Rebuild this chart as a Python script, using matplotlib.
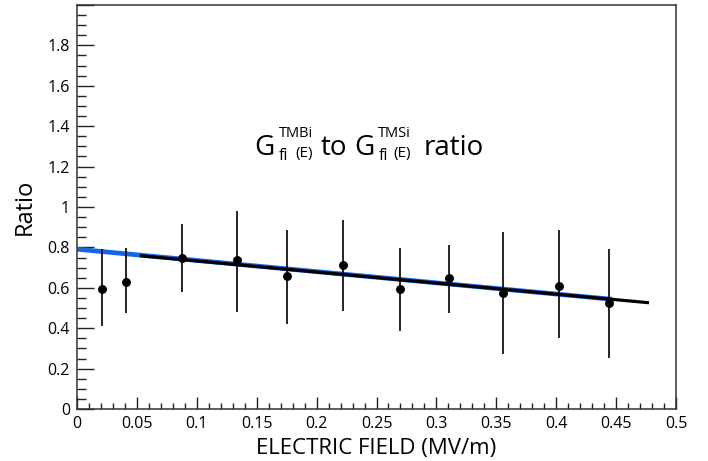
import matplotlib
matplotlib.use("Agg")
import matplotlib.pyplot as plt
from matplotlib.ticker import MultipleLocator, FuncFormatter
from matplotlib.transforms import IdentityTransform
import numpy as np

# data
field = [0.0206, 0.0408, 0.0875, 0.1336, 0.1756, 0.2222, 0.2697, 0.3103, 0.3553, 0.4025, 0.4442]
ratio = [0.594, 0.630, 0.746, 0.736, 0.657, 0.713, 0.596, 0.649, 0.573, 0.611, 0.523]
err_low = [0.411, 0.475, 0.581, 0.480, 0.421, 0.484, 0.386, 0.474, 0.272, 0.351, 0.252]
err_high = [0.790, 0.799, 0.916, 0.980, 0.888, 0.936, 0.799, 0.812, 0.875, 0.888, 0.791]

# fit lines (end points)
blue_x = [0.0, 0.447]
blue_y = [0.791, 0.543]
black_x = [0.0525, 0.4775]
black_y = [0.759, 0.526]

plt.rcParams['font.family'] = ['Open Sans', 'DejaVu Sans']

W, H = 708, 461
fig = plt.figure(figsize=(W/100, H/100), dpi=100)
ax = fig.add_axes([77/W, 1-409/H, (676-77)/W, (409-5)/H])

ratio = np.array(ratio)
yerr = [ratio - np.array(err_low), np.array(err_high) - ratio]

ax.plot(blue_x, blue_y, color='#1464f0', lw=3.4, solid_capstyle='butt', zorder=2)
ax.plot(black_x, black_y, color='black', lw=2.3, solid_capstyle='butt', zorder=3)
ax.errorbar(field, ratio, yerr=yerr, fmt='o', color='black', ms=5.4,
            elinewidth=1.2, capsize=0, zorder=4)

ax.set_xlim(0, 0.5)
ax.set_ylim(0, 2.0)

ax.xaxis.set_major_locator(MultipleLocator(0.05))
ax.xaxis.set_minor_locator(MultipleLocator(0.01))
ax.yaxis.set_major_locator(MultipleLocator(0.2))
ax.yaxis.set_minor_locator(MultipleLocator(0.05))

ax.xaxis.set_major_formatter(FuncFormatter(lambda v, p: '%g' % round(v, 3)))
ax.yaxis.set_major_formatter(FuncFormatter(lambda v, p: '' if v > 1.9 else '%g' % round(v, 3)))

ax.tick_params(axis='both', which='both', direction='in', top=False, right=False,
               colors='#222222', labelcolor='black', labelsize=11.5)
ax.tick_params(axis='x', which='major', length=9, width=1.0, pad=5)
ax.tick_params(axis='x', which='minor', length=4.3, width=1.0)
ax.tick_params(axis='y', which='major', length=12.5, width=1.0, pad=5)
ax.tick_params(axis='y', which='minor', length=6.2, width=1.0)

for s in ax.spines.values():
    s.set_color('#333333')
    s.set_linewidth(1.1)

ax.set_xlabel('ELECTRIC FIELD (MV/m)', fontsize=16, labelpad=4)
ax.set_ylabel('Ratio', fontsize=17, labelpad=8)

# title built piece by piece (ROOT style small scripts)
# (text, fontsize, baseline shift px, gap after px, advances cursor)
title_parts = [
    ('G', 20, 0, 4, True),
    ('TMBi', 10.5, 18, 0, False),
    ('fi', 11.5, -5, 7, True),
    ('(E)', 11, -2, 8, True),
    ('to', 20, 0, 7, True),
    ('G', 20, 0, 4, True),
    ('TMSi', 10.5, 18, 0, False),
    ('fi', 11.5, -5, 6, True),
    ('(E)', 11, -2, 12, True),
    ('ratio', 20, 0, 0, True),
]
renderer = fig.canvas.get_renderer()
base_y = H - 155
x = 0
pieces = []
for txt, fs, dy, gap, adv in title_parts:
    t = fig.text(x, base_y + dy, txt, fontsize=fs, va='baseline', ha='left',
                 transform=IdentityTransform())
    w = t.get_window_extent(renderer).width
    pieces.append((t, x))
    if adv:
        x += w + gap
total = x
x0 = 369 - total / 2
for t, px in pieces:
    t.set_x(x0 + px)

fig.savefig('out.png', dpi=100)
